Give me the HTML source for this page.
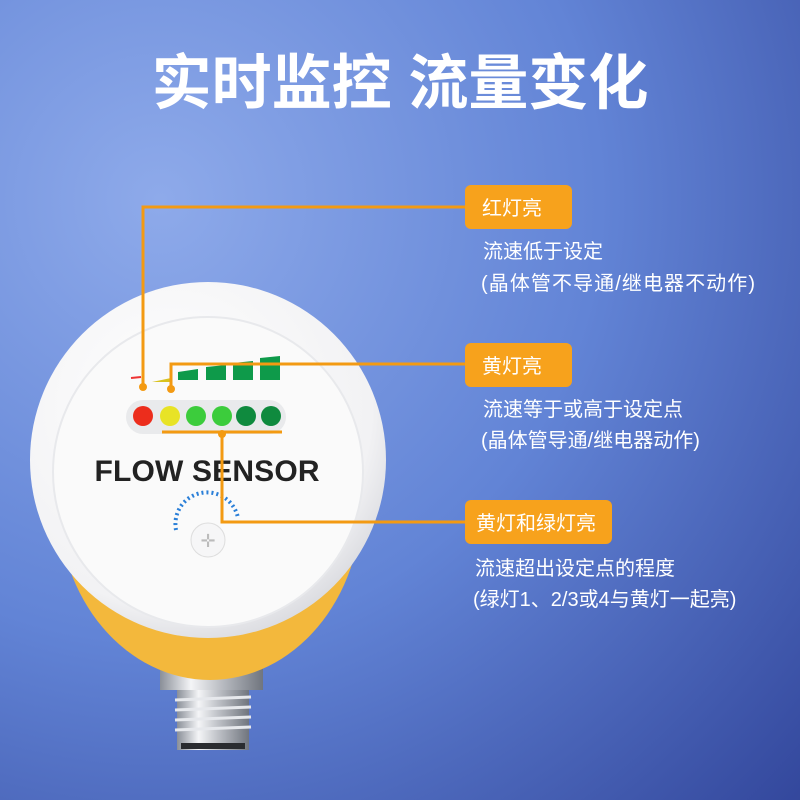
<!DOCTYPE html>
<html><head><meta charset="utf-8"><style>
body{margin:0;width:800px;height:800px;overflow:hidden;font-family:"Liberation Sans","Noto Sans CJK SC",sans-serif}
</style></head><body>
<svg width="800" height="800" viewBox="0 0 800 800" xmlns="http://www.w3.org/2000/svg" font-family="Liberation Sans, Noto Sans CJK SC, sans-serif">
<defs>
<radialGradient id="bg" cx="0.2" cy="0.25" r="1.1">
<stop offset="0" stop-color="#8eaaea"/><stop offset="0.5" stop-color="#6284d6"/><stop offset="1" stop-color="#33479c"/>
</radialGradient>
<radialGradient id="body" cx="0.4" cy="0.35" r="0.7">
<stop offset="0" stop-color="#ffffff"/><stop offset="0.8" stop-color="#f2f2f4"/><stop offset="1" stop-color="#d8d9de"/>
</radialGradient>
<linearGradient id="metal" x1="0" x2="1">
<stop offset="0" stop-color="#8a8f98"/><stop offset="0.3" stop-color="#f4f5f7"/><stop offset="0.6" stop-color="#b9bcc2"/><stop offset="1" stop-color="#70757e"/>
</linearGradient>
</defs>
<rect width="800" height="800" fill="url(#bg)"/>
<text x="400" y="104" text-anchor="middle" fill="#fff" font-size="60" font-weight="bold">实时监控 流量变化</text>
<rect x="177" y="685" width="72" height="65" fill="url(#metal)"/>
<g stroke="#e6e8ec" stroke-width="3">
<line x1="175" y1="700" x2="251" y2="697"/><line x1="175" y1="710" x2="251" y2="707"/><line x1="175" y1="720" x2="251" y2="717"/><line x1="175" y1="730" x2="251" y2="727"/></g>
<rect x="181" y="743" width="64" height="6" fill="#2a2c30"/>
<rect x="160" y="668" width="103" height="22" fill="url(#metal)"/>
<ellipse cx="210" cy="500" rx="152" ry="180" fill="#f3b83c"/>
<circle cx="208" cy="460" r="178" fill="url(#body)"/>
<circle cx="208" cy="472" r="155" fill="#fafafa" stroke="#e8e9ec" stroke-width="2"/>
<rect x="126" y="400" width="160" height="34" rx="17" fill="#e9eaec"/>
<circle cx="143" cy="416" r="10" fill="#ec2d1c"/>
<circle cx="170" cy="416" r="10" fill="#e8e326"/>
<circle cx="196" cy="416" r="10" fill="#3ccc3c"/>
<circle cx="222" cy="416" r="10" fill="#3ccc3c"/>
<circle cx="246" cy="416" r="10" fill="#0f8a3e"/>
<circle cx="271" cy="416" r="10" fill="#0f8a3e"/>
<path d="M131 378 L141 377" stroke="#e33" stroke-width="2"/>
<path d="M152 382 L171 378 L171 382 Z" fill="#d8c21e"/>
<path d="M178 372 L198 369 L198 380 L178 380Z M206 367 L226 365 L226 380 L206 380Z M233 363 L253 361 L253 380 L233 380Z M260 358 L280 356 L280 380 L260 380Z" fill="#0e9a4a"/>
<text x="207" y="481" text-anchor="middle" font-size="30" font-weight="bold" fill="#222" textLength="225">FLOW SENSOR</text>
<path d="M176 530 A30 30 0 0 1 238 518" fill="none" stroke="#2a7fd8" stroke-width="4" stroke-dasharray="2 3"/>
<circle cx="208" cy="540" r="17" fill="#f6f6f7" stroke="#ddd"/>
<text x="208" y="547" text-anchor="middle" font-size="18" fill="#bbb">✛</text>
<g stroke="#f39a12" stroke-width="3" fill="none">
<polyline points="143,385 143,207 470,207"/>
<polyline points="171,388 171,364 470,364"/>
<line x1="162" y1="432" x2="282" y2="432"/>
<polyline points="222,432 222,522 470,522"/>
</g>
<g fill="#f39a12"><circle cx="143" cy="387" r="4"/><circle cx="171" cy="389" r="4"/><circle cx="222" cy="434" r="4"/></g>
<rect x="465" y="185" width="107" height="44" rx="6" fill="#f7a21c"/>
<rect x="465" y="343" width="107" height="44" rx="6" fill="#f7a21c"/>
<rect x="465" y="500" width="147" height="44" rx="6" fill="#f7a21c"/>
<g fill="#fff" font-size="20">
<text x="482" y="215">红灯亮</text>
<text x="482" y="373">黄灯亮</text>
<text x="476" y="530">黄灯和绿灯亮</text>
</g>
<g fill="#fff" font-size="20">
<text x="483" y="258">流速低于设定</text>
<text x="481" y="290" textLength="274">(晶体管不导通/继电器不动作)</text>
<text x="483" y="416">流速等于或高于设定点</text>
<text x="481" y="447">(晶体管导通/继电器动作)</text>
<text x="475" y="575">流速超出设定点的程度</text>
<text x="473" y="606">(绿灯1、2/3或4与黄灯一起亮)</text>
</g>
</svg>
</body></html>
